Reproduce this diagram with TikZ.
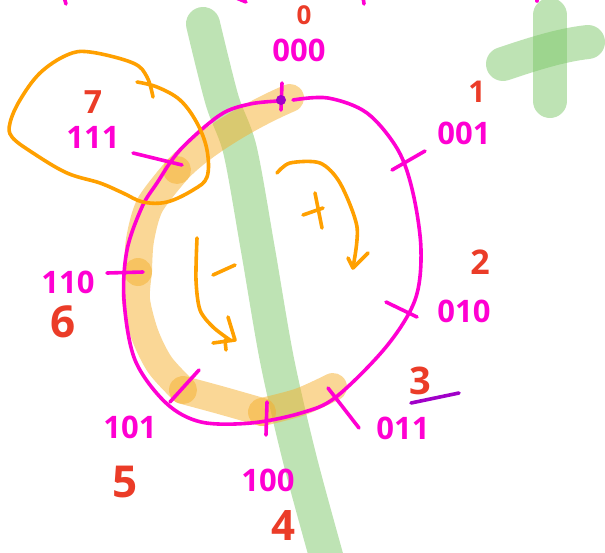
\documentclass[tikz,border=0pt]{standalone}
\usepackage{fontspec}
\setmainfont{Open Sans}
\definecolor{pinkc}{RGB}{255,0,210}
\definecolor{redc}{RGB}{235,60,40}
\definecolor{orangec}{RGB}{255,160,0}
\definecolor{bandc}{RGB}{245,175,45}
\definecolor{greenc}{RGB}{125,199,105}
\definecolor{purplec}{RGB}{160,0,200}
\begin{document}
\begin{tikzpicture}[x=1pt,y=-1pt, line cap=round, line join=round,
  pk/.style={draw=pinkc, line width=3.6pt},
  ostroke/.style={draw=orangec, line width=3.6pt},
  hlband/.style={draw=bandc, draw opacity=0.5, line width=28pt},
  greenstroke/.style={draw=greenc, draw opacity=0.5, line width=34pt},
  plab/.style={text=pinkc, font=\bfseries\fontsize{31}{31}\selectfont, inner sep=0pt},
  rlab/.style={text=redc, inner sep=0pt}]
\clip (0,0) rectangle (605,552);
% green strokes
\draw[greenstroke] plot[smooth] coordinates {(203,24) (222,100) (240,150) (258,250) (277,360) (300,460) (330,570)};
\draw[greenstroke] (550,15) -- (550,101);
\draw[greenstroke] (503,64) .. controls (530,55) and (560,45) .. (588,42);
% orange highlight band
\draw[hlband] (290,98) .. controls (250,115) and (200,145) .. (177,170);
\draw[hlband] plot[smooth] coordinates {(177,170) (150,205) (140,240) (138,272)};
\draw[hlband] plot[smooth] coordinates {(138,272) (136,300) (145,335) (160,365) (183,390)};
\draw[hlband] plot[smooth] coordinates {(183,390) (220,400) (262,412)};
\draw[hlband] plot[smooth] coordinates {(262,412) (300,402) (333,387)};
% pink circle
\draw[pk] plot[smooth, tension=0.55] coordinates {(293,100) (328,98) (367,113) (398,150) (413,193) (421,250) (415,300) (386,347) (336,397) (301,413) (251,423) (201,422) (166,403) (135,360) (124,300) (127,250) (142,207) (157,183) (180,150) (220,115) (250,104) (279,101)};
% ticks
\draw[pk] (282,83) -- (281,110);
\draw[pk] (392,170) -- (425,151);
\draw[pk] (386,302) -- (417,317);
\draw[pk] (328,388) -- (359,428);
\draw[pk] (267,402) -- (266,435);
\draw[pk] (199,370) -- (170,402);
\draw[pk] (107,273) -- (143,272);
\draw[pk] (133,153) -- (182,165);
\fill[purplec] (281,100) circle (5);
% top cut-off marks
\draw[pk] (64,-3) -- (66,4);
\draw[pk] (234,-3) -- (246,2);
\draw[pk] (363,-3) -- (364,4);
\draw[pk] (537,-3) -- (537,1);
% orange arrows and signs
\draw[ostroke] plot[smooth] coordinates {(277,173) (290,163) (320,163) (340,183) (357,227) (353,267)};
\draw[ostroke] (348,258) -- (353,268) -- (368,253);
\draw[ostroke] (303,215) -- (323,208);
\draw[ostroke] (315,193) -- (322,228);
\draw[ostroke] (213,275) -- (235,265);
\draw[ostroke] plot[smooth] coordinates {(197,238) (196,280) (200,310) (213,327) (230,340)};
\draw[ostroke] (228,317) -- (235,340) -- (213,343);
\draw[ostroke] (225,340) -- (226,350);
% lasso
\draw[ostroke] plot[smooth, tension=0.6] coordinates {(137,82) (157,87) (180,100) (197,123) (207,150) (207,177) (193,190) (167,202) (143,202) (123,193) (100,183) (67,173) (33,153) (12,137) (10,123) (20,100) (40,73) (67,55) (90,52) (133,63) (147,77) (153,97)};
% purple underline
\draw[purplec, line width=3.6pt] (411,403) -- (459,393);
% labels
\node[plab] (l0) at (299,50) {000};
\node[plab] (l1) at (464,133) {001};
\node[plab] (l2) at (464,311) {010};
\node[plab] (l3) at (403,428) {011};
\node[plab] (l4) at (268,480) {100};
\node[plab] (l5) at (130,427) {101};
\node[plab] (l6) at (68,282) {110};
\node[plab] (l7) at (93,137) {111};
\node[rlab, font=\bfseries\fontsize{26}{26}\selectfont] (n0) at (304,15) {0};
\node[rlab, font=\bfseries\fontsize{30}{30}\selectfont] (n1) at (477,92) {1};
\node[rlab, font=\bfseries\fontsize{34}{34}\selectfont] (n2) at (480,262) {2};
\node[rlab, font=\bfseries\fontsize{38}{38}\selectfont] (n3) at (420,381) {3};
\node[rlab, font=\bfseries\fontsize{42}{42}\selectfont] (n4) at (283,526) {4};
\node[rlab, font=\bfseries\fontsize{44}{44}\selectfont] (n5) at (125,482) {5};
\node[rlab, font=\bfseries\fontsize{44}{44}\selectfont] (n6) at (63,322) {6};
\node[rlab, font=\bfseries\fontsize{32}{32}\selectfont] (n7) at (93,102) {7};
\end{tikzpicture}
\end{document}
